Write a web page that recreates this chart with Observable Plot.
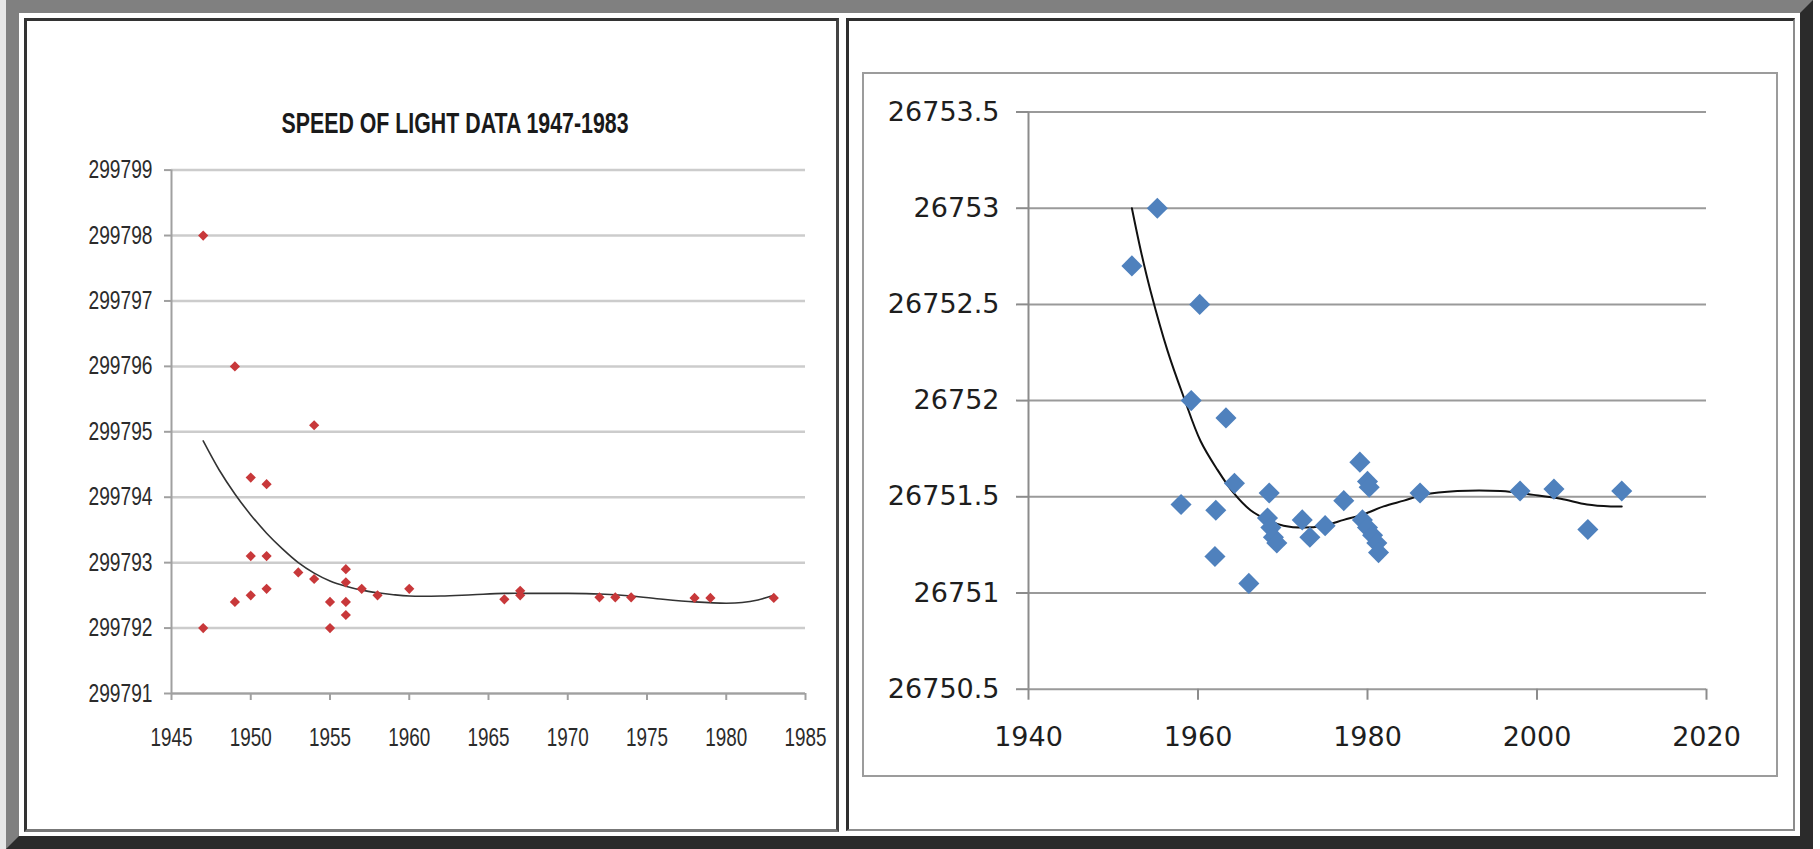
<!DOCTYPE html>
<html><head><meta charset="utf-8">
<script src="https://cdn.jsdelivr.net/npm/d3@7"></script>
<script src="https://cdn.jsdelivr.net/npm/@observablehq/plot@0.6"></script>
<style>
html,body{margin:0;padding:0;background:#fff;}
body{width:1820px;height:849px;position:relative;overflow:hidden;}
#edge{position:absolute;left:0;top:0;width:6px;height:849px;background:#e6e6e6;}
#bevel{position:absolute;left:6px;top:0;width:1807px;height:849px;box-sizing:border-box;border-top:13px solid #808080;border-left:13px solid #808080;border-right:13px solid #2b2b2b;border-bottom:13px solid #2b2b2b;background:#fff;}
.panel{position:absolute;box-sizing:border-box;background:#fff;}
#p1{left:24px;top:18px;width:815px;height:814px;border-top:3px solid #333;border-left:3px solid #333;border-right:3px solid #444;border-bottom:3px solid #777;}
#p2{left:846px;top:18px;width:949px;height:813px;border-top:3px solid #2e2e2e;border-left:3px solid #2e2e2e;border-right:2px solid #8c8c8c;border-bottom:2px solid #8c8c8c;}
#box2{position:absolute;left:862px;top:72px;width:916px;height:705px;box-sizing:border-box;border:2px solid #9c9c9c;}
.chart{position:absolute;}
#c1{left:27px;top:130px;width:800px;height:660px;}
#c2{left:864px;top:76px;width:912px;height:700px;}
#title{position:absolute;top:108px;left:455px;font:bold 30px 'Liberation Sans Narrow','Liberation Sans',Arial,sans-serif;color:#1a1a1a;white-space:nowrap;transform-origin:0 0;line-height:30px;}
</style></head><body>
<div id="edge"></div>
<div id="bevel"></div>
<div class="panel" id="p1"></div>
<div class="panel" id="p2"></div>
<div id="box2"></div>
<div id="title"><span id="titletext">SPEED OF LIGHT DATA 1947-1983</span></div>
<div class="chart" id="c1"></div>
<div class="chart" id="c2"></div>
<script>
// ---- Left chart data ----
const leftXTicks = [1945, 1950, 1955, 1960, 1965, 1970, 1975, 1980, 1985];
const leftYTicks = [299791, 299792, 299793, 299794, 299795, 299796, 299797, 299798, 299799];
const leftYears = [1947, 1947, 1949, 1949, 1950, 1950, 1950, 1951, 1951, 1951, 1953, 1954, 1954, 1955, 1955, 1956, 1956, 1956, 1956, 1957, 1958, 1960, 1966, 1967, 1967, 1972, 1973, 1974, 1978, 1979, 1983];
const leftValues = [299798.0, 299792.0, 299796.0, 299792.4, 299794.3, 299793.1, 299792.5, 299794.2, 299793.1, 299792.6, 299792.85, 299795.1, 299792.75, 299792.4, 299792.0, 299792.9, 299792.7, 299792.4, 299792.2, 299792.6, 299792.5, 299792.6, 299792.44, 299792.57, 299792.5, 299792.47, 299792.47, 299792.47, 299792.46, 299792.46, 299792.46];
const leftTrendYears = [1947, 1948, 1949, 1950, 1951, 1952, 1953, 1954, 1955, 1956, 1957, 1958, 1959, 1960, 1962, 1964, 1966, 1968, 1970, 1972, 1974, 1976, 1978, 1980, 1981, 1982, 1983];
const leftTrendValues = [299794.86, 299794.42, 299794.05, 299793.73, 299793.45, 299793.21, 299793.0, 299792.84, 299792.72, 299792.64, 299792.58, 299792.54, 299792.51, 299792.49, 299792.49, 299792.51, 299792.53, 299792.53, 299792.53, 299792.52, 299792.49, 299792.44, 299792.4, 299792.38, 299792.39, 299792.43, 299792.5];

// ---- Right chart data ----
const rightXTicks = [1940, 1960, 1980, 2000, 2020];
const rightYTicks = [26750.5, 26751, 26751.5, 26752, 26752.5, 26753, 26753.5];
const rightYears = [1952.2, 1955.2, 1960.2, 1959.2, 1963.3, 1958.0, 1962.1, 1962.0, 1964.3, 1966.0, 1968.4, 1968.2, 1968.6, 1968.9, 1969.3, 1972.3, 1973.2, 1975.0, 1977.2, 1979.1, 1980.0, 1980.2, 1979.4, 1980.0, 1980.6, 1981.1, 1981.3, 1986.2, 1998.0, 2002.0, 2006.0, 2010.0];
const rightValues = [26752.70, 26753.00, 26752.50, 26752.00, 26751.91, 26751.46, 26751.43, 26751.19, 26751.57, 26751.05, 26751.52, 26751.39, 26751.34, 26751.29, 26751.26, 26751.38, 26751.29, 26751.35, 26751.48, 26751.68, 26751.58, 26751.55, 26751.38, 26751.34, 26751.30, 26751.26, 26751.21, 26751.52, 26751.53, 26751.54, 26751.33, 26751.53];
const rightTrendYears = [1952.2, 1953.3, 1954.4, 1956.4, 1958.3, 1960.3, 1962.3, 1964.2, 1966.2, 1968.2, 1970.1, 1972.5, 1974.8, 1977.2, 1979.6, 1981.9, 1984.3, 1986.6, 1990.6, 1995.7, 1999.6, 2002.8, 2005.9, 2008.7, 2010.0];
const rightTrendValues = [26753.00, 26752.77, 26752.57, 26752.26, 26752.02, 26751.79, 26751.64, 26751.52, 26751.43, 26751.38, 26751.35, 26751.34, 26751.35, 26751.38, 26751.41, 26751.45, 26751.48, 26751.51, 26751.53, 26751.53, 26751.51, 26751.49, 26751.46, 26751.45, 26751.45];

const leftPoints = leftYears.map((x, i) => ({x, y: leftValues[i]}));
const leftTrend = leftTrendYears.map((x, i) => ({x, y: leftTrendValues[i]}));
const rightPoints = rightYears.map((x, i) => ({x, y: rightValues[i]}));
const rightTrend = rightTrendYears.map((x, i) => ({x, y: rightTrendValues[i]}));
const fmt = d => String(d);

const leftFont = "'Liberation Sans Narrow','Liberation Sans',Arial,sans-serif";
const left = Plot.plot({
  width: 800, height: 660,
  marginLeft: 144, marginRight: 22, marginTop: 39.6, marginBottom: 97,
  style: {background: "none", fontFamily: leftFont, fontSize: "25px", color: "#2b2b2b", overflow: "visible"},
  x: {domain: [1945, 1985], label: null},
  y: {domain: [299791, 299799], label: null},
  marks: [
    Plot.gridY(leftYTicks, {stroke: "#cccccc", strokeOpacity: 1, strokeWidth: 2.5}),
    Plot.ruleX([1945], {stroke: "#a0a0a0", strokeWidth: 2}),
    Plot.ruleY([299791], {stroke: "#a0a0a0", strokeWidth: 2}),
    Plot.axisY(leftYTicks, {tickSize: 7, tickPadding: 12, stroke: "#a0a0a0", strokeWidth: 2, tickFormat: fmt, label: null}),
    Plot.axisX(leftXTicks, {tickSize: 7, tickPadding: 28, stroke: "#a0a0a0", strokeWidth: 2, tickFormat: fmt, label: null}),
    Plot.line(leftTrend, {x: "x", y: "y", curve: "catmull-rom", stroke: "#333", strokeWidth: 1.6}),
    Plot.dot(leftPoints, {x: "x", y: "y", symbol: "diamond2", r: 4.6, fill: "#c8383a"})
  ]
});
document.getElementById("c1").appendChild(left);
left.querySelectorAll('g[aria-label="y-axis tick label"] text').forEach(t => {t.setAttribute("textLength", 64); t.setAttribute("lengthAdjust", "spacingAndGlyphs");});
left.querySelectorAll('g[aria-label="x-axis tick label"] text').forEach(t => {t.setAttribute("textLength", 42); t.setAttribute("lengthAdjust", "spacingAndGlyphs");});

const right = Plot.plot({
  width: 912, height: 700,
  marginLeft: 164, marginRight: 70, marginTop: 35.5, marginBottom: 87.3,
  style: {background: "none", fontFamily: "'DejaVu Sans',Verdana,sans-serif", fontSize: "27px", color: "#1e1e1e", overflow: "visible"},
  x: {domain: [1940, 2020], label: null},
  y: {domain: [26750.5, 26753.5], label: null},
  marks: [
    Plot.gridY(rightYTicks, {stroke: "#9a9a9a", strokeOpacity: 1, strokeWidth: 2}),
    Plot.ruleX([1940], {stroke: "#8c8c8c", strokeWidth: 2}),
    Plot.axisY(rightYTicks, {tickSize: 12, tickPadding: 17, stroke: "#8c8c8c", strokeWidth: 2, tickFormat: fmt, label: null}),
    Plot.axisX(rightXTicks, {tickSize: 11, tickPadding: 27, stroke: "#8c8c8c", strokeWidth: 2, tickFormat: fmt, label: null}),
    Plot.line(rightTrend, {x: "x", y: "y", curve: "catmull-rom", stroke: "#111", strokeWidth: 2}),
    Plot.dot(rightPoints, {x: "x", y: "y", symbol: "diamond2", r: 9.5, fill: "#4f81bd"})
  ]
});
document.getElementById("c2").appendChild(right);

// compress the title to the reference's narrow width
const tt = document.getElementById("titletext");
const w = tt.getBoundingClientRect().width;
const k = 347 / w;
document.getElementById("title").style.transform = `translate(${-347 / 2}px,0) scaleX(${k})`;
</script>
</body></html>
